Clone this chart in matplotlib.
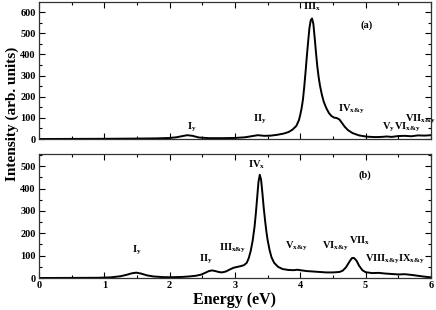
import matplotlib
matplotlib.use('Agg')
import matplotlib.pyplot as plt
from matplotlib.ticker import MultipleLocator

# panel (a) spectrum
energy_a = [0.0, 0.5, 1.0, 1.5, 1.8, 2.0, 2.1, 2.2, 2.27, 2.35, 2.45, 2.6, 2.8, 3.0,
            3.15, 3.25, 3.35, 3.45, 3.55, 3.65, 3.75, 3.82, 3.88, 3.94, 3.98,
            4.0, 4.02, 4.04, 4.06, 4.08, 4.10, 4.12, 4.14, 4.16, 4.18, 4.20, 4.22,
            4.24, 4.26, 4.28, 4.30, 4.33, 4.36, 4.40, 4.44, 4.48, 4.52, 4.56, 4.60,
            4.64, 4.68, 4.73, 4.80, 4.90, 5.02, 5.15, 5.25, 5.32, 5.40, 5.50, 5.60,
            5.70, 5.80, 5.90, 6.0]
intensity_a = [0, 0.5, 1, 2, 3, 5, 8, 14, 18, 15, 7, 4, 4, 5,
               8, 13, 18, 15, 16, 20, 26, 33, 44, 62, 90,
               115, 145, 185, 245, 315, 390, 460, 525, 562, 570, 545, 480,
               410, 345, 295, 255, 210, 175, 145, 122, 108, 101, 99, 92,
               75, 58, 42, 28, 17, 11, 9, 10, 12, 10, 14, 15,
               13, 17, 16, 18]

# panel (b) spectrum
energy_b = [0.0, 0.5, 0.9, 1.1, 1.25, 1.35, 1.42, 1.49, 1.56, 1.65, 1.75, 1.9, 2.0,
            2.1, 2.2, 2.3, 2.4, 2.48, 2.55, 2.6, 2.65, 2.7, 2.75, 2.8, 2.86, 2.92,
            2.98, 3.04, 3.1, 3.14, 3.18, 3.21, 3.24, 3.27, 3.30, 3.32, 3.34, 3.36,
            3.38, 3.40, 3.42, 3.44, 3.46, 3.48, 3.50, 3.53, 3.56, 3.60, 3.66, 3.73,
            3.82, 3.9, 3.95, 4.0, 4.1, 4.2, 4.3, 4.4, 4.5, 4.6, 4.65, 4.7, 4.75,
            4.79, 4.82, 4.86, 4.9, 4.95, 5.0, 5.1, 5.2, 5.3, 5.4, 5.5, 5.6, 5.7,
            5.8, 5.9, 6.0]
intensity_b = [0, 0.5, 1, 3, 8, 15, 21, 24, 20, 12, 7, 4, 3.5,
               4, 5, 7, 10, 15, 24, 31, 34, 31, 27, 25, 29, 38,
               46, 50, 54, 58, 68, 88, 120, 165, 230, 290, 360, 430,
               462, 440, 380, 315, 260, 210, 170, 125, 92, 68, 50, 40,
               36, 35, 37, 35, 31, 29, 27, 25, 25, 27, 33, 48, 72,
               89, 90, 78, 55, 35, 26, 22, 23, 20, 18, 16, 17, 14,
               10, 6, 3]

# peak labels: (text, left x, baseline y)
labels_a = [("I$_{\\rm y}$", 2.26, 46), ("II$_{\\rm y}$", 3.28, 86),
            ("III$_{\\rm x}$", 4.04, 612), ("IV$_{\\rm x&y}$", 4.57, 132),
            ("V$_{\\rm y}$", 5.25, 46), ("VI$_{\\rm x&y}$", 5.44, 46),
            ("VII$_{\\rm x&y}$", 5.61, 86)]
labels_b = [("I$_{\\rm y}$", 1.43, 114), ("II$_{\\rm y}$", 2.45, 76),
            ("III$_{\\rm x&y}$", 2.75, 124), ("IV$_{\\rm x}$", 3.20, 494),
            ("V$_{\\rm x&y}$", 3.77, 132), ("VI$_{\\rm x&y}$", 4.34, 132),
            ("VII$_{\\rm x}$", 4.74, 157), ("VIII$_{\\rm x&y}$", 4.99, 76),
            ("IX$_{\\rm x&y}$", 5.49, 76)]

plt.rcParams['font.family'] = ['Liberation Serif', 'DejaVu Serif']
plt.rcParams['font.weight'] = 'bold'
plt.rcParams['mathtext.fontset'] = 'custom'
plt.rcParams['mathtext.rm'] = 'Liberation Serif'
plt.rcParams['mathtext.bf'] = 'Liberation Serif:bold'

fig = plt.figure(figsize=(4.36, 3.10), dpi=100)
ax1 = fig.add_axes([0.0894, 0.5516, 0.899, 0.4419])
ax2 = fig.add_axes([0.0894, 0.1032, 0.899, 0.4000])

ax1.plot(energy_a, intensity_a, color='black', lw=1.4)
ax2.plot(energy_b, intensity_b, color='black', lw=1.4)

for text, x, y in labels_a:
    ax1.text(x, y, text, ha='left', va='baseline', fontsize=7.5, fontweight='bold')
for text, x, y in labels_b:
    ax2.text(x, y, text, ha='left', va='baseline', fontsize=7.5, fontweight='bold')

ax1.text(5.02, 538, "(a)", ha='center', va='center', fontsize=7.5, fontweight='bold')
ax2.text(4.99, 460, "(b)", ha='center', va='center', fontsize=7.5, fontweight='bold')

ax1.set_ylim(0, 648)
ax2.set_ylim(0, 555)
ax1.yaxis.set_major_locator(MultipleLocator(100))
ax2.yaxis.set_major_locator(MultipleLocator(100))
for ax in (ax1, ax2):
    ax.set_xlim(0, 6)
    ax.xaxis.set_major_locator(MultipleLocator(1))
    ax.xaxis.set_minor_locator(MultipleLocator(0.5))
    ax.yaxis.set_minor_locator(MultipleLocator(50))
    ax.tick_params(which='both', direction='in', top=True, right=True,
                   labelsize=7.5, width=0.8, pad=2.5)
    ax.tick_params(which='major', length=4)
    ax.tick_params(which='minor', length=2.5)
    for s in ax.spines.values():
        s.set_linewidth(0.9)
        s.set_color('#333333')
ax1.tick_params(labelbottom=False)

ax2.set_xlabel("Energy (eV)", fontsize=11.5, fontweight='bold', labelpad=1)
fig.text(0.027, 0.632, "Intensity (arb. units)", rotation=90, ha='center',
         va='center', fontsize=11, fontweight='bold')

fig.savefig("out.png", dpi=100)
